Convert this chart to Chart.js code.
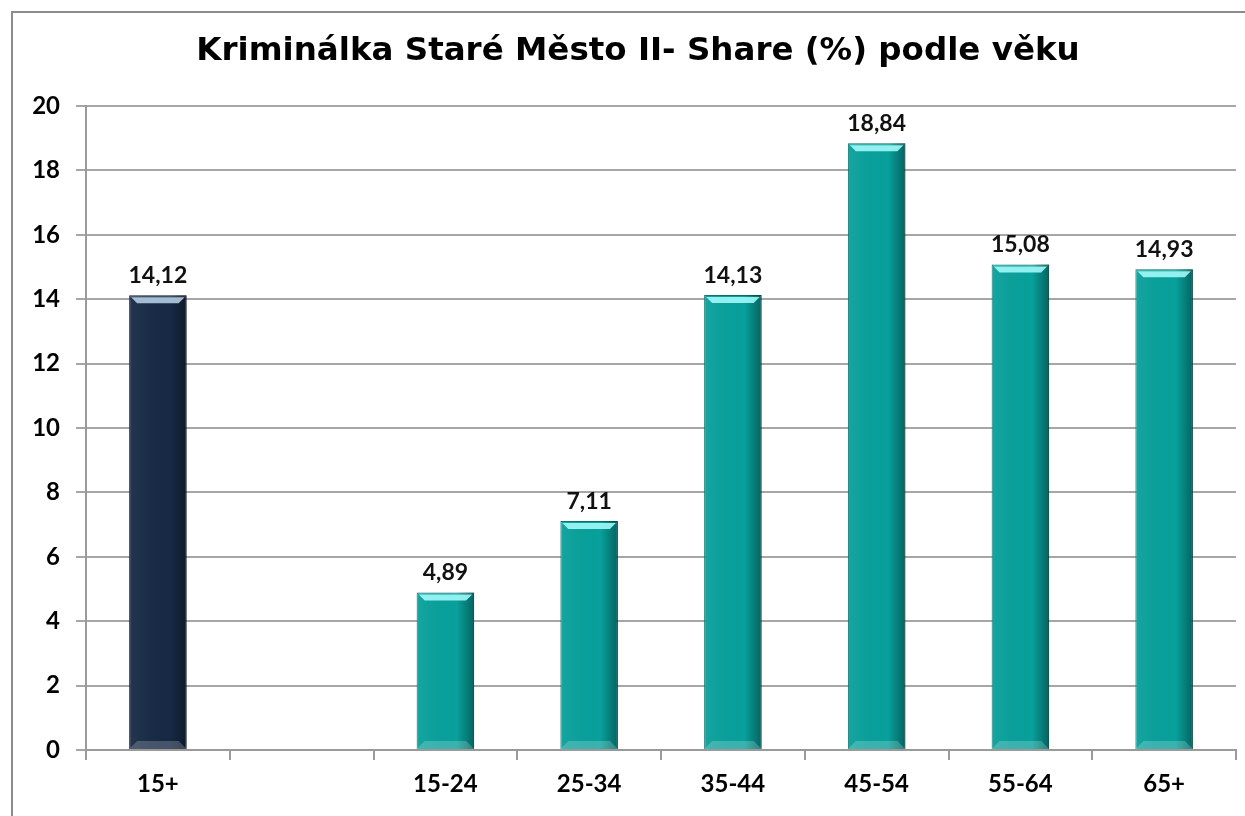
<!DOCTYPE html>
<html>
<head>
<meta charset="utf-8">
<script src="https://cdn.jsdelivr.net/npm/chart.js@4"></script>
<style>
  html, body { margin: 0; padding: 0; background: #fff; }
  #wrap { width: 1245px; height: 816px; position: relative; }
</style>
</head>
<body>
<div id="wrap"><canvas id="ageChart"></canvas></div>
<script>
// Data
const categories = ["15+", "", "15-24", "25-34", "35-44", "45-54", "55-64", "65+"];
const shareValues = [14.12, null, 4.89, 7.11, 14.13, 18.84, 15.08, 14.93];
const yTicks = [0, 2, 4, 6, 8, 10, 12, 14, 16, 18, 20];
const chartTitle = "Kriminálka Staré Město II- Share (%) podle věku";

const NAVY = "#172a45";
const TEAL = "#08a09b";
const labelFont = "Lato, 'Open Sans', sans-serif";

// outer frame like the office chart border + title (centred in the frame, not the canvas)
const framePlugin = {
  id: "frame",
  beforeDraw(chart) {
    const c = chart.ctx;
    c.save();
    c.strokeStyle = "#8c8c8c";
    c.lineWidth = 2;
    c.strokeRect(12, 12, 1400, 1000);
    c.fillStyle = "#000";
    c.font = "bold 32.5px 'DejaVu Sans', Verdana, sans-serif";
    c.textAlign = "center";
    c.textBaseline = "middle";
    c.fillText(chartTitle, 638, 52);
    c.restore();
  }
};

// bevel look + value labels over bars
const barExtras = {
  id: "barExtras",
  afterDatasetsDraw(chart) {
    const c = chart.ctx;
    const meta = chart.getDatasetMeta(0);
    meta.data.forEach((bar, i) => {
      const v = shareValues[i];
      if (v == null) return;
      const left = bar.x - bar.width / 2;
      const right = bar.x + bar.width / 2;
      const top = bar.y;
      const bottom = bar.base;
      const b = 8;
      c.save();
      // side shading
      const g = c.createLinearGradient(left, 0, right, 0);
      g.addColorStop(0, "rgba(255,255,255,0.06)");
      g.addColorStop(0.7, "rgba(0,0,0,0)");
      g.addColorStop(1, "rgba(0,0,0,0.38)");
      c.fillStyle = g;
      c.fillRect(left, top, bar.width, bottom - top);
      // top highlight bevel
      c.beginPath();
      c.moveTo(left + 2, top + 2);
      c.lineTo(right - 2, top + 2);
      c.lineTo(right - b, top + b);
      c.lineTo(left + b, top + b);
      c.closePath();
      c.fillStyle = i === 0 ? "rgba(200,225,245,0.8)" : "rgba(170,255,255,0.85)";
      c.fill();
      // bottom bevel
      c.beginPath();
      c.moveTo(left, bottom);
      c.lineTo(right, bottom);
      c.lineTo(right - b, bottom - b);
      c.lineTo(left + b, bottom - b);
      c.closePath();
      c.fillStyle = "rgba(255,255,255,0.2)";
      c.fill();
      // value label
      c.fillStyle = "#111";
      c.font = "bold 23px " + labelFont;
      c.textAlign = "center";
      c.textBaseline = "bottom";
      c.fillText(v.toFixed(2).replace(".", ","), bar.x, top - 8);
      c.restore();
    });
  }
};

const ctx = document.getElementById("ageChart").getContext("2d");
new Chart(ctx, {
  type: "bar",
  data: {
    labels: categories,
    datasets: [
      {
        label: "Share (%)",
        data: shareValues,
        backgroundColor: shareValues.map((v, i) => (i === 0 ? NAVY : TEAL)),
        borderColor: shareValues.map((v, i) => (i === 0 ? "#0e1a2c" : "#05706c")),
        borderWidth: 1,
        barPercentage: 0.4,
        categoryPercentage: 1.0,
      },
    ],
  },
  options: {
    responsive: true,
    maintainAspectRatio: false,
    animation: false,
    layout: { padding: { left: 0, right: 9, top: 106, bottom: 0 } },
    plugins: {
      legend: { display: false },
      tooltip: { enabled: false },
      title: { display: false },
    },
    scales: {
      x: {
        grid: {
          offset: true,
          drawOnChartArea: false,
          drawTicks: true,
          tickLength: 10,
          color: "#9a9a9a",
          lineWidth: 2,
        },
        border: { color: "#9a9a9a", width: 2 },
        ticks: {
          color: "#000",
          font: { family: labelFont, size: 24, weight: "bold" },
          padding: 10,
          maxRotation: 0,
        },
        afterFit(scale) { scale.height = 66; },
      },
      y: {
        min: 0,
        max: 20,
        afterBuildTicks(scale) { scale.ticks = yTicks.map((v) => ({ value: v })); },
        grid: { color: "#a6a6a6", lineWidth: 2, tickLength: 10 },
        border: { color: "#9a9a9a", width: 2 },
        ticks: {
          color: "#000",
          font: { family: labelFont, size: 24, weight: "bold" },
          padding: 16,
        },
        afterFit(scale) { scale.width = 86; },
      },
    },
  },
  plugins: [framePlugin, barExtras],
});
</script>
</body>
</html>
